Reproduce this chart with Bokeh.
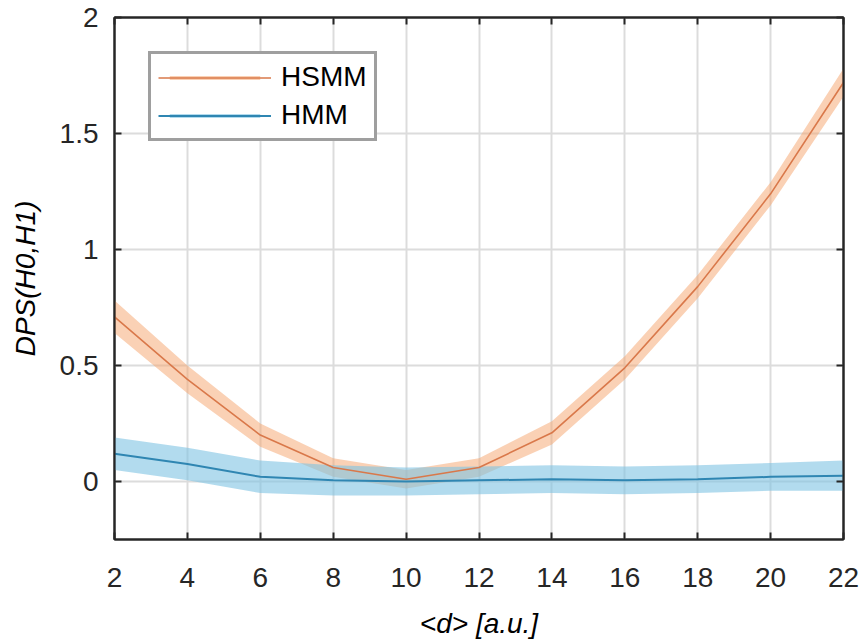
from bokeh.plotting import figure
from bokeh.models import Legend, LegendItem, LinearAxis, FixedTicker, Range1d
from bokeh.embed import file_html
from bokeh.resources import INLINE

# ---- data ----
d_values = [2, 4, 6, 8, 10, 12, 14, 16, 18, 20, 22]
hsmm_mean = [0.71, 0.44, 0.20, 0.06, 0.01, 0.06, 0.21, 0.49, 0.84, 1.24, 1.72]
hsmm_err = [0.07, 0.06, 0.05, 0.04, 0.04, 0.04, 0.05, 0.05, 0.05, 0.05, 0.06]
hmm_mean = [0.12, 0.075, 0.02, 0.005, 0.0, 0.005, 0.01, 0.005, 0.01, 0.02, 0.025]
hmm_err = [0.07, 0.07, 0.07, 0.065, 0.06, 0.06, 0.06, 0.06, 0.06, 0.06, 0.065]
x_ticks = [2, 4, 6, 8, 10, 12, 14, 16, 18, 20, 22]
y_ticks = [0, 0.5, 1, 1.5, 2]
y_tick_labels = ["0", "0.5", "1", "1.5", "2"]
series_names = ["HSMM", "HMM"]

FONT = "Liberation Sans"
DARK = "#262626"

p = figure(width=859, height=641, output_backend="svg", toolbar_location=None,
           x_range=Range1d(2, 22), y_range=Range1d(-0.25, 2),
           min_border_left=114, min_border_right=16, min_border_top=17,
           min_border_bottom=101, x_axis_location="below", y_axis_location="left")
p.outline_line_color = DARK
p.outline_line_width = 2
p.background_fill_color = "white"
p.border_fill_color = "white"

# bands
h_lo = [m - e for m, e in zip(hsmm_mean, hsmm_err)]
h_hi = [m + e for m, e in zip(hsmm_mean, hsmm_err)]
m_lo = [m - e for m, e in zip(hmm_mean, hmm_err)]
m_hi = [m + e for m, e in zip(hmm_mean, hmm_err)]

hb = p.varea(x=d_values, y1=h_lo, y2=h_hi, fill_color="#F6A46C", fill_alpha=0.5)
mb = p.varea(x=d_values, y1=m_lo, y2=m_hi, fill_color="#7EC3E3", fill_alpha=0.6)
hl = p.line(d_values, hsmm_mean, line_color="#D9784A", line_width=1.6)
ml = p.line(d_values, hmm_mean, line_color="#2F86B2", line_width=2)

legend = Legend(items=[LegendItem(label=series_names[0], renderers=[hb, hl]),
                       LegendItem(label=series_names[1], renderers=[mb, ml])],
                location=(34, 398), orientation="vertical")
legend.label_text_font = FONT
legend.label_text_font_size = "28px"
legend.label_text_color = "black"
legend.glyph_width = 113
legend.glyph_height = 5
legend.label_height = 22
legend.label_standoff = 10
legend.spacing = 6
legend.padding = 7
legend.margin = 0
legend.border_line_color = "#404040"
legend.border_line_width = 3
legend.background_fill_alpha = 1.0
p.add_layout(legend, "center")

# grids
for g, t in ((p.xgrid, x_ticks), (p.ygrid, y_ticks)):
    g.ticker = FixedTicker(ticks=t)
    g.grid_line_color = "#DCDCDC"
    g.grid_line_width = 2

# axes
def style_axis(ax, labels=True):
    ax.axis_line_color = DARK
    ax.axis_line_width = 2
    ax.major_tick_line_color = DARK
    ax.major_tick_line_width = 2
    ax.major_tick_in = 7
    ax.major_tick_out = 0
    ax.minor_tick_line_color = None
    ax.major_label_text_font = FONT
    ax.major_label_text_font_size = "28px"
    ax.major_label_text_color = DARK
    ax.axis_label_text_font = FONT
    ax.axis_label_text_font_size = "28px"
    ax.axis_label_text_font_style = "italic"
    ax.axis_label_text_color = "black"
    if not labels:
        ax.major_label_text_font_size = "0px"
        ax.major_label_text_alpha = 0

xa = p.xaxis[0]
xa.ticker = FixedTicker(ticks=x_ticks)
xa.axis_label = "<d> [a.u.]"
style_axis(xa)
xa.major_label_standoff = 28
xa.axis_label_standoff = 18

ya = p.yaxis[0]
ya.ticker = FixedTicker(ticks=y_ticks)
ya.major_label_overrides = {t: s for t, s in zip(y_ticks, y_tick_labels)}
ya.axis_label = "DPS(H0,H1)"
style_axis(ya)
ya.major_label_standoff = 16
ya.axis_label_standoff = 16

top = LinearAxis(ticker=FixedTicker(ticks=x_ticks))
style_axis(top, labels=False)
p.add_layout(top, "above")
right = LinearAxis(ticker=FixedTicker(ticks=y_ticks))
style_axis(right, labels=False)
p.add_layout(right, "right")

open("out.html", "w").write(file_html(p, INLINE))
